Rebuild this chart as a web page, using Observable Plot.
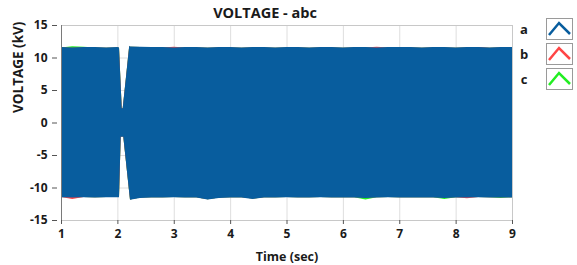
<!DOCTYPE html>
<html><head><meta charset="utf-8">
<script src="https://cdn.jsdelivr.net/npm/d3@7"></script>
<script src="https://cdn.jsdelivr.net/npm/@observablehq/plot@0.6"></script>
<style>
html,body{margin:0;padding:0;background:#fff;}
#wrap{position:relative;width:577px;height:265px;}
#legend{position:absolute;left:0;top:0;}
</style></head>
<body><div id="wrap"></div>
<script>
const phases = ["a", "b", "c"];
const phaseColors = ["#085d9e", "#ff4545", "#22ee22"];
const xTicks = [1, 2, 3, 4, 5, 6, 7, 8, 9];
const yTicks = [-15, -10, -5, 0, 5, 10, 15];
const titleText = "VOLTAGE - abc";
const xLabel = "Time (sec)";
const yLabel = "VOLTAGE (kV)";

// envelope of the waveform (peak values, kV) per phase
const time = [1.0,1.2,1.4,1.6,1.8,2.0, 2.029,2.059,2.077,2.094,2.105,2.15,2.21,2.224,
  2.4,2.6,2.8,3.0,3.2,3.4,3.6,3.8,4.0,4.2,4.4,4.6,4.8,5.0,5.2,5.4,5.6,5.8,6.0,6.2,6.4,6.6,6.8,7.0,7.2,7.4,7.6,7.8,8.0,8.2,8.4,8.6,8.8,9.0];
const aMax = [11.6,11.55,11.6,11.6,11.55,11.6, 11.55,5.7,2.2,2.2,3.1,6.8,11.8,11.7,
  11.65,11.6,11.6,11.55,11.6,11.6,11.55,11.6,11.6,11.55,11.6,11.6,11.55,11.6,11.6,11.55,11.6,11.6,11.55,11.6,11.6,11.55,11.6,11.6,11.6,11.55,11.6,11.6,11.55,11.6,11.6,11.55,11.6,11.6];
const aMin = [-11.5,-11.55,-11.5,-11.55,-11.5,-11.5, -11.5,-2.2,-2.2,-2.2,-2.2,-5.9,-10.8,-11.9,
  -11.6,-11.55,-11.55,-11.5,-11.55,-11.55,-11.85,-11.6,-11.55,-11.55,-11.75,-11.55,-11.55,-11.5,-11.55,-11.55,-11.5,-11.55,-11.55,-11.55,-11.6,-11.55,-11.5,-11.55,-11.55,-11.55,-11.55,-11.6,-11.55,-11.55,-11.5,-11.55,-11.55,-11.55];
const bMax = [11.55,11.5,11.55,11.55,11.5,11.55, 11.5,5.6,2.25,2.15,3.0,6.7,11.75,11.65,
  11.6,11.55,11.55,11.65,11.55,11.55,11.5,11.55,11.55,11.5,11.55,11.55,11.5,11.55,11.55,11.5,11.55,11.55,11.5,11.55,11.55,11.65,11.55,11.55,11.55,11.5,11.55,11.55,11.5,11.55,11.62,11.5,11.55,11.55];
const bMin = [-11.45,-11.75,-11.45,-11.5,-11.45,-11.45, -11.45,-2.25,-2.15,-2.15,-2.15,-5.8,-10.7,-11.85,
  -11.55,-11.5,-11.5,-11.45,-11.5,-11.5,-11.8,-11.55,-11.5,-11.5,-11.7,-11.5,-11.5,-11.45,-11.5,-11.5,-11.45,-11.5,-11.5,-11.5,-11.55,-11.5,-11.45,-11.5,-11.5,-11.5,-11.5,-11.55,-11.5,-11.65,-11.45,-11.5,-11.5,-11.5];
const cMax = [11.55,11.72,11.66,11.55,11.5,11.55, 11.5,5.6,2.15,2.15,3.0,6.7,11.75,11.65,
  11.6,11.55,11.55,11.5,11.55,11.55,11.5,11.55,11.55,11.5,11.55,11.55,11.5,11.55,11.55,11.5,11.55,11.55,11.5,11.55,11.55,11.5,11.55,11.55,11.55,11.5,11.55,11.55,11.5,11.55,11.55,11.5,11.55,11.55];
const cMin = [-11.45,-11.5,-11.45,-11.5,-11.45,-11.45, -11.45,-2.15,-2.15,-2.15,-2.15,-5.8,-10.7,-11.85,
  -11.55,-11.5,-11.5,-11.45,-11.5,-11.5,-11.8,-11.55,-11.5,-11.5,-11.7,-11.5,-11.5,-11.45,-11.5,-11.5,-11.45,-11.5,-11.5,-11.5,-11.85,-11.5,-11.45,-11.5,-11.5,-11.5,-11.5,-11.75,-11.5,-11.5,-11.45,-11.5,-11.6,-11.5];

const envelopes = {a: [aMax, aMin], b: [bMax, bMin], c: [cMax, cMin]};
const rows = [];
for (const p of ["c", "b", "a"]) {
  const [hi, lo] = envelopes[p];
  time.forEach((t, i) => rows.push({phase: p, t, hi: hi[i], lo: lo[i]}));
}

const font = "'Open Sans', sans-serif";
const chart = Plot.plot({
  width: 577, height: 265,
  marginLeft: 61, marginRight: 65, marginTop: 25, marginBottom: 45,
  style: {fontFamily: font, fontSize: "12px", fontWeight: "bold", color: "#1a1a1a", background: "#fff", overflow: "visible"},
  x: {domain: [1, 9], label: null},
  y: {domain: [-15, 15], label: null},
  color: {domain: phases, range: phaseColors},
  marks: [
    Plot.gridX(xTicks, {stroke: "#dedede", strokeOpacity: 1}),
    Plot.gridY(yTicks, {stroke: "#dedede", strokeOpacity: 1}),
    Plot.areaY(rows, {x: "t", y1: "lo", y2: "hi", z: "phase", fill: "phase", fillOpacity: 1}),
    Plot.frame({stroke: "#c8c8c8"}),
    Plot.ruleX([1], {stroke: "#7a7a7a"}),
    Plot.axisY(yTicks, {tickSize: 5, dx: -4, tickPadding: 5, stroke: "#555", label: null, tickFormat: d => d}),
    Plot.axisX(xTicks, {tickSize: 4, tickPadding: 5, stroke: "#555", label: null, tickFormat: d => d}),
    Plot.text([yLabel], {frameAnchor: "left", rotate: -90, dx: -43, dy: -10, fontSize: 13.5, fontWeight: "bold"}),
    Plot.text([xLabel], {frameAnchor: "bottom", lineAnchor: "middle", dy: 36, fontSize: 12.5, fontWeight: "bold"}),
    Plot.text([titleText], {frameAnchor: "top", lineAnchor: "middle", dy: -12, dx: -22, fontSize: 14.5, fontWeight: "bold"})
  ]
});
document.getElementById("wrap").appendChild(chart);

// legend: labels + boxed chevron icons
const leg = d3.select("#wrap").append("svg").attr("id", "legend").attr("width", 577).attr("height", 265)
  .style("pointer-events", "none");
phases.forEach((p, i) => {
  const y0 = 18 + i * 25;
  leg.append("text").attr("x", 524).attr("y", y0 + 11).attr("dy", "0.35em").attr("text-anchor", "middle")
    .style("font-family", font).style("font-size", "13px").style("font-weight", "bold").attr("fill", "#1a1a1a").text(p);
  leg.append("rect").attr("x", 546.5).attr("y", y0 + 0.5).attr("width", 26).attr("height", 21)
    .attr("fill", "#fff").attr("stroke", "#9a9a9a");
  leg.append("polyline").attr("points", `${549},${y0 + 17} ${559},${y0 + 5} ${570},${y0 + 16}`)
    .attr("fill", "none").attr("stroke", phaseColors[i]).attr("stroke-width", 2.5);
});
</script></body></html>
